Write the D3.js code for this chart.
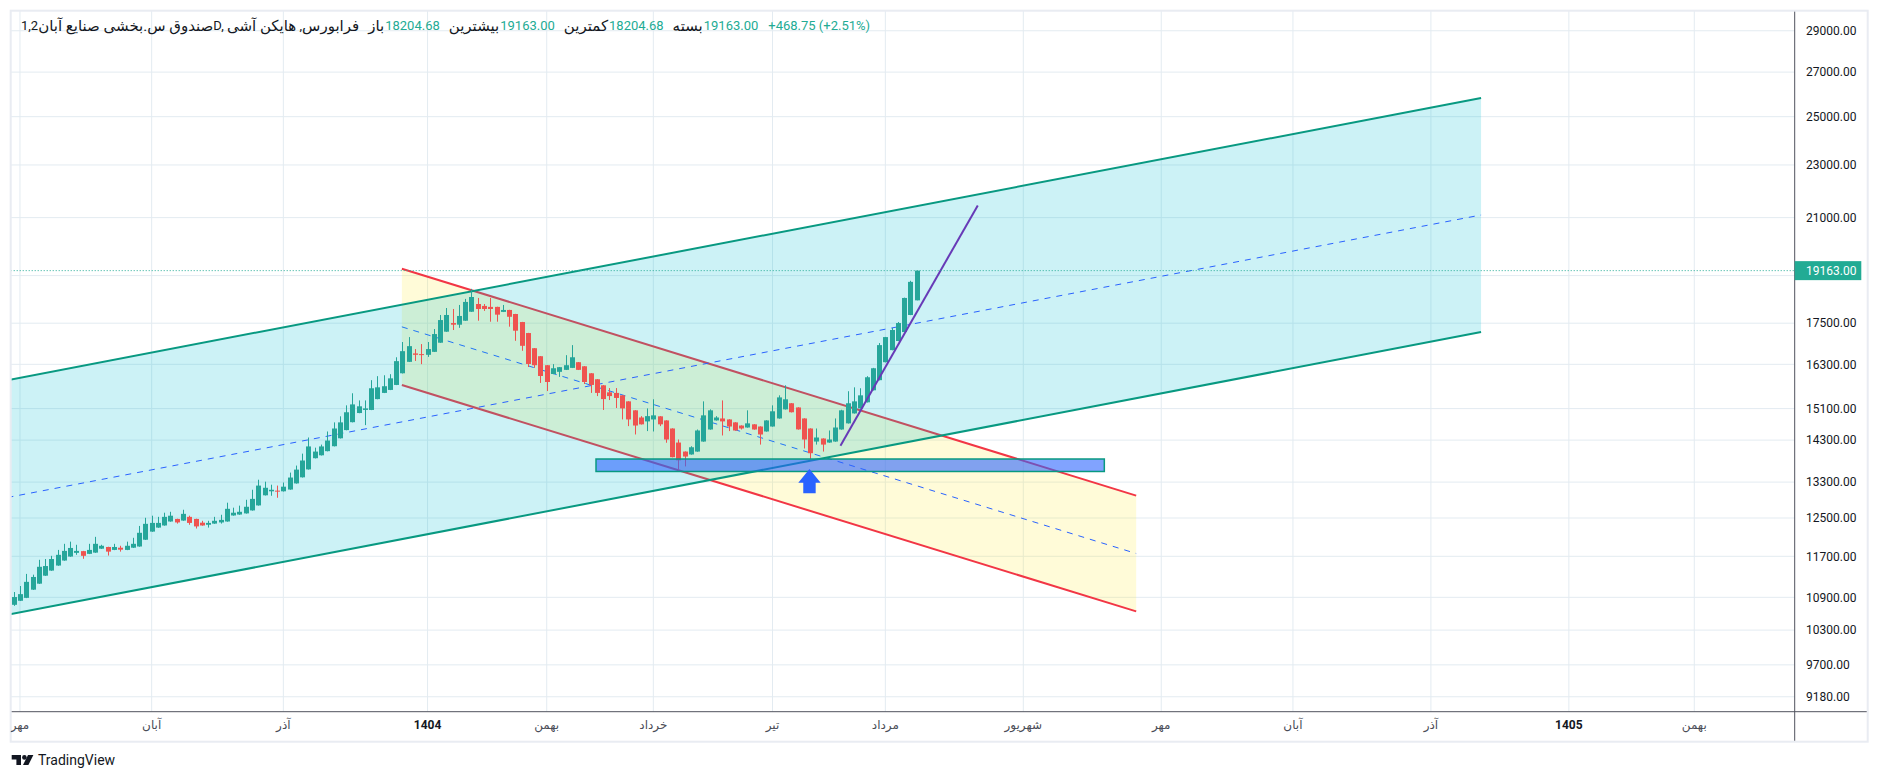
<!DOCTYPE html>
<html>
<head>
<meta charset="utf-8">
<script src="https://cdn.jsdelivr.net/npm/d3@7"></script>
<style>
    body { margin: 0; background: #fff; font-family: Roboto, "DejaVu Sans", sans-serif; }
    #chart { position: relative; width: 1879px; height: 781px; overflow: hidden; }
    #chart svg { position: absolute; left: 0; top: 0; }
    #legend { position: absolute; left: 21px; top: 17px; height: 18px; line-height: 18px; font-size: 13px;
              color: #131722; white-space: pre; display: flex; align-items: center; direction: ltr; }
    #legend span { unicode-bidi: isolate; }
    #legend span[dir="rtl"] { font-size: 15px; }
    #legend .val { color: #22ab94; }
</style>
</head>
<body>
<div id="chart">
    <svg id="svg" width="1879" height="781"></svg>
    <div id="legend"></div>
</div>
<script>
// Heikin Ashi daily candles
const opens = [10760, 10835, 10890, 11045, 11160, 11315, 11415, 11515, 11615, 11695,
    11770, 11805, 11750, 11775, 11855, 11890, 11830, 11875, 11830, 11875,
    11900, 12040, 12210, 12295, 12340, 12425, 12480, 12445, 12525, 12480,
    12400, 12355, 12380, 12405, 12425, 12555, 12575, 12600, 12665, 12775,
    13000, 13090, 13105, 13090, 13130, 13270, 13410, 13595, 13860, 13930,
    14030, 14150, 14345, 14550, 14750, 14985, 15065, 15065, 15350, 15515,
    15595, 15730, 16050, 16370, 16610, 16590, 16570, 16655, 16920, 17245,
    17505, 17455, 17575, 17850, 18090, 18030, 18000, 18000, 17845, 17905,
    17780, 17535, 17205, 16760, 16530, 16275, 16030, 16090, 16145, 16200,
    16360, 16245, 16050, 15885, 15720, 15530, 15515, 15450, 15290, 15055,
    14870, 14770, 14820, 14900, 14795, 14590, 14240, 14020, 13950, 14020,
    14265, 14565, 14795, 14845, 14820, 14745, 14665, 14615, 14695, 14640,
    14515, 14640, 14845, 15080, 15240, 15130, 14845, 14590, 14265, 14340,
    14240, 14265, 14565, 14720, 14975, 15105, 15265, 15585, 15860, 16360,
    16705, 16970, 17235, 17750, 18204.68];
const highs = [11000, 11115, 11350, 11335, 11630, 11645, 11710, 11830, 11955, 12000,
    11935, 11810, 11955, 12100, 11935, 11895, 11955, 11915, 12000, 12080,
    12330, 12505, 12550, 12525, 12615, 12635, 12485, 12680, 12550, 12485,
    12440, 12440, 12525, 12570, 12835, 12725, 12770, 12900, 13125, 13355,
    13310, 13240, 13220, 13290, 13520, 13685, 13970, 14365, 14115, 14190,
    14515, 14745, 14900, 15185, 15505, 15315, 15315, 15860, 15970, 15995,
    16025, 16500, 16940, 17085, 16735, 16880, 16940, 17325, 17750, 17965,
    17935, 18060, 18250, 18570, 18280, 18090, 18280, 18005, 18060, 17910,
    17785, 17540, 17210, 16765, 16535, 16280, 16305, 16225, 16560, 16850,
    16365, 16250, 16055, 15890, 15725, 15645, 15645, 15455, 15295, 15060,
    14905, 15105, 15345, 14905, 14800, 14595, 14315, 14025, 14150, 14565,
    15290, 15080, 14905, 15315, 14825, 14750, 14670, 15055, 14700, 14645,
    14800, 15185, 15450, 15720, 15245, 15135, 14850, 14595, 14590, 14345,
    14540, 14845, 15070, 15560, 15665, 15640, 15970, 16200, 16910, 17090,
    17355, 17535, 18290, 18830, 19163];
const lows = [10740, 10830, 10885, 11040, 11155, 11310, 11410, 11510, 11610, 11690,
    11730, 11650, 11745, 11770, 11850, 11715, 11825, 11795, 11825, 11870,
    11895, 12035, 12205, 12290, 12335, 12420, 12380, 12440, 12355, 12275,
    12335, 12295, 12375, 12380, 12420, 12550, 12570, 12595, 12660, 12770,
    12995, 12990, 12945, 13085, 13125, 13265, 13405, 13590, 13855, 13925,
    14025, 14145, 14340, 14545, 14745, 14980, 14675, 15060, 15345, 15510,
    15590, 15725, 16045, 16365, 16395, 16305, 16510, 16650, 16915, 17240,
    17295, 17360, 17570, 17845, 17575, 17875, 17545, 17545, 17840, 17395,
    16975, 16685, 16225, 16200, 15785, 15565, 16025, 15950, 16140, 16195,
    16140, 15755, 15515, 15430, 15065, 15325, 15115, 14820, 14650, 14440,
    14690, 14525, 14515, 14650, 14235, 13880, 13575, 13665, 13945, 14015,
    14260, 14560, 14790, 14415, 14525, 14535, 14565, 14610, 14560, 14190,
    14510, 14635, 14840, 15075, 15000, 14560, 14095, 13835, 14190, 14020,
    14235, 14260, 14560, 14715, 14970, 15100, 15260, 15580, 15855, 16355,
    16700, 16965, 17230, 17745, 18204.68];
const closes = [10905, 10960, 11195, 11290, 11490, 11505, 11645, 11730, 11810, 11870,
    11810, 11710, 11830, 11955, 11915, 11795, 11890, 11835, 11915, 11955,
    12185, 12375, 12395, 12395, 12525, 12550, 12405, 12590, 12395, 12320,
    12340, 12395, 12440, 12460, 12700, 12615, 12635, 12745, 12920, 13220,
    13170, 13125, 13090, 13195, 13405, 13590, 13805, 14145, 14020, 14145,
    14290, 14590, 14745, 15005, 15210, 15160, 15105, 15640, 15665, 15695,
    15910, 16390, 16675, 16820, 16570, 16570, 16735, 17175, 17595, 17750,
    17455, 17720, 18155, 18310, 17935, 17935, 17935, 17760, 17905, 17695,
    17275, 16830, 16310, 16275, 15975, 15810, 16190, 16220, 16275, 16500,
    16145, 15810, 15730, 15515, 15350, 15430, 15380, 15105, 14820, 14665,
    14695, 14905, 14925, 14695, 14315, 13885, 13810, 13900, 14125, 14540,
    14925, 15055, 14870, 14770, 14640, 14540, 14590, 14720, 14565, 14440,
    14795, 15030, 15395, 15345, 15005, 14567, 14315, 13980, 14365, 14190,
    14315, 14615, 15055, 15240, 15290, 15450, 15940, 16190, 16850, 17085,
    17295, 17505, 18280, 18795, 19163];

// time axis: bar index of each month label
const monthTicks = [1, 22, 43, 66, 85, 102, 121, 139, 161, 183, 204, 226, 248, 268];
const monthLabels = ["مهر", "آبان", "آذر", "1404", "بهمن", "خرداد", "تیر", "مرداد",
    "شهریور", "مهر", "آبان", "آذر", "1405", "بهمن"];
const priceTicks = [29000, 27000, 25000, 23000, 21000, 19000, 17500, 16300, 15100,
    14300, 13300, 12500, 11700, 10900, 10300, 9700, 9180];

const change = 468.75;
const changePct = 2.51;

// drawings: [bar index, price]
const riseUpper = [[-1, 15860], [234, 25820]];
const riseLower = [[-1, 10575], [234, 17236]];
const fallUpper = [[61.9, 19227], [179, 12993]];
const fallLower = [[61.9, 15728], [179, 10638]];
const supportZone = [[92.86, 13841], [173.92, 13546]];
const arrowPoint = [126.9, 13604];
const trendLine = [[131.84, 14163], [153.74, 21448]];

const plot = { left: 10.7, top: 10.7, right: 1794.7, bottom: 711.7 };
const frame = { right: 1867.7, bottom: 741.7 };
const green = "#26a69a", red = "#ef5350", teal = "#22ab94";

const x = d3.scaleLinear().domain([0, 144]).range([13.7, 916.7]);
const y = d3.scaleLog().domain([9180, 29000]).range([696.75, 30.75]);

const svg = d3.select("#svg");
const defs = svg.append("defs");
defs.append("clipPath").attr("id", "plotClip")
    .append("rect")
    .attr("x", plot.left).attr("y", plot.top)
    .attr("width", plot.right - plot.left).attr("height", plot.bottom - plot.top);
defs.append("clipPath").attr("id", "timeClip")
    .append("rect")
    .attr("x", plot.left).attr("y", plot.bottom)
    .attr("width", plot.right - plot.left).attr("height", frame.bottom - plot.bottom);

// grid
const grid = svg.append("g").attr("clip-path", "url(#plotClip)");
grid.selectAll(".hgrid")
    .data(priceTicks)
    .enter()
    .append("line")
    .attr("x1", plot.left).attr("x2", plot.right)
    .attr("y1", d => y(d)).attr("y2", d => y(d))
    .attr("stroke", "#e3ebf1").attr("stroke-width", 1);
grid.selectAll(".vgrid")
    .data(monthTicks)
    .enter()
    .append("line")
    .attr("x1", d => x(d)).attr("x2", d => x(d))
    .attr("y1", plot.top).attr("y2", plot.bottom)
    .attr("stroke", "#e3ebf1").attr("stroke-width", 1);

const layer = svg.append("g").attr("clip-path", "url(#plotClip)");

function drawChannel(upper, lower, fill, stroke) {
    const pts = [
        [x(upper[0][0]), y(upper[0][1])],
        [x(upper[1][0]), y(upper[1][1])],
        [x(lower[1][0]), y(lower[1][1])],
        [x(lower[0][0]), y(lower[0][1])]
    ];
    layer.append("polygon")
        .attr("points", pts.map(p => p.join(",")).join(" "))
        .attr("fill", fill);
    // midline halfway between the two borders
    layer.append("line")
        .attr("x1", pts[0][0]).attr("y1", (pts[0][1] + pts[3][1]) / 2)
        .attr("x2", pts[1][0]).attr("y2", (pts[1][1] + pts[2][1]) / 2)
        .attr("stroke", "#2962ff").attr("stroke-width", 1)
        .attr("stroke-dasharray", "6,6");
    [upper, lower].forEach(l => {
        layer.append("line")
            .attr("x1", x(l[0][0])).attr("y1", y(l[0][1]))
            .attr("x2", x(l[1][0])).attr("y2", y(l[1][1]))
            .attr("stroke", stroke).attr("stroke-width", 2);
    });
}

drawChannel(fallUpper, fallLower, "rgba(255,235,59,0.2)", "#f23645");
drawChannel(riseUpper, riseLower, "rgba(0,188,212,0.2)", "#089981");

// candles
const candles = d3.range(opens.length).map(i => ({
    i: i, o: opens[i], h: highs[i], l: lows[i], c: closes[i]
}));

const bars = layer.append("g").selectAll("g")
    .data(candles)
    .enter()
    .append("g");

bars.append("line")
    .attr("x1", d => Math.round(x(d.i)) + 0.5)
    .attr("x2", d => Math.round(x(d.i)) + 0.5)
    .attr("y1", d => y(d.h))
    .attr("y2", d => y(d.l))
    .attr("stroke", d => d.c >= d.o ? green : red)
    .attr("stroke-width", 1);

bars.append("rect")
    .attr("x", d => Math.round(x(d.i)) - 2)
    .attr("width", 5)
    .attr("y", d => y(Math.max(d.o, d.c)))
    .attr("height", d => Math.max(1, Math.abs(y(d.o) - y(d.c))))
    .attr("fill", d => d.c >= d.o ? green : red);

// support zone
layer.append("rect")
    .attr("x", x(supportZone[0][0]))
    .attr("y", y(supportZone[0][1]))
    .attr("width", x(supportZone[1][0]) - x(supportZone[0][0]))
    .attr("height", y(supportZone[1][1]) - y(supportZone[0][1]))
    .attr("fill", "rgba(41,98,255,0.59)")
    .attr("stroke", "#089981")
    .attr("stroke-width", 1.5);

// up arrow under the low
const ax = x(arrowPoint[0]), ay = y(arrowPoint[1]);
layer.append("polygon")
    .attr("points", [[0, 0], [11.2, 13.7], [6.2, 13.7], [6.2, 24.3], [-6.2, 24.3], [-6.2, 13.7], [-11.2, 13.7]]
        .map(p => (ax + p[0]) + "," + (ay + p[1])).join(" "))
    .attr("fill", "#2962ff");

// trend line
layer.append("line")
    .attr("x1", x(trendLine[0][0])).attr("y1", y(trendLine[0][1]))
    .attr("x2", x(trendLine[1][0])).attr("y2", y(trendLine[1][1]))
    .attr("stroke", "#673ab7").attr("stroke-width", 2);

// last price line
const last = closes[closes.length - 1];
layer.append("line")
    .attr("x1", plot.left).attr("x2", plot.right)
    .attr("y1", y(last)).attr("y2", y(last))
    .attr("stroke", teal).attr("stroke-width", 1)
    .attr("stroke-dasharray", "1,2");

// axes lines and frame
svg.append("line")
    .attr("x1", plot.left).attr("x2", frame.right)
    .attr("y1", plot.bottom).attr("y2", plot.bottom)
    .attr("stroke", "#50535e").attr("stroke-width", 1);
svg.append("line")
    .attr("x1", plot.right).attr("x2", plot.right)
    .attr("y1", plot.top).attr("y2", frame.bottom)
    .attr("stroke", "#50535e").attr("stroke-width", 1);
svg.append("rect")
    .attr("x", plot.left).attr("y", plot.top)
    .attr("width", frame.right - plot.left).attr("height", frame.bottom - plot.top)
    .attr("fill", "none").attr("stroke", "#e9ecf2").attr("stroke-width", 2);

// price axis labels
svg.append("g").selectAll("text")
    .data(priceTicks.filter(p => Math.abs(y(p) - y(last)) > 14))
    .enter()
    .append("text")
    .attr("x", 1806)
    .attr("y", d => y(d))
    .attr("dy", "0.35em")
    .attr("font-size", 12)
    .attr("fill", "#131722")
    .text(d => d3.format(".2f")(d));

svg.append("rect")
    .attr("x", plot.right).attr("y", y(last) - 9.5)
    .attr("width", 66.6).attr("height", 19)
    .attr("fill", teal);
svg.append("text")
    .attr("x", 1806).attr("y", y(last)).attr("dy", "0.35em")
    .attr("font-size", 12).attr("fill", "#fff")
    .text(d3.format(".2f")(last));

// time axis labels
svg.append("g").attr("clip-path", "url(#timeClip)")
    .selectAll("text")
    .data(monthTicks)
    .enter()
    .append("text")
    .attr("x", d => x(d))
    .attr("y", 725)
    .attr("dy", "0.35em")
    .attr("text-anchor", "middle")
    .attr("font-size", 12)
    .attr("font-weight", (d, i) => /^\d+$/.test(monthLabels[i]) ? "bold" : "normal")
    .attr("fill", (d, i) => /^\d+$/.test(monthLabels[i]) ? "#131722" : "#4a4d57")
    .text((d, i) => monthLabels[i]);

// TradingView logo
const logo = svg.append("g").attr("fill", "#131722");
logo.append("path").attr("d", "M11.7 755 h9.3 v10 h-4.6 v-5.6 h-4.7 z");
logo.append("circle").attr("cx", 24.4).attr("cy", 757.4).attr("r", 2.3);
logo.append("path").attr("d", "M28 755 h5.4 l-5 10 h-5.4 z");
logo.append("text")
    .attr("x", 38).attr("y", 765)
    .attr("font-size", 14)
    .text("TradingView");

// legend (visual order, left to right)
const legend = d3.select("#legend");
const titleParts = [
    { t: "1,2", dir: "ltr" },
    { t: "صندوق س.بخشی صنایع آبان", dir: "rtl" },
    { t: "D, ", dir: "ltr" },
    { t: "هایکن آشی", dir: "rtl" },
    { t: " ,", dir: "ltr" },
    { t: "فرابورس", dir: "rtl" }
];
titleParts.forEach(p => {
    legend.append("span").attr("dir", p.dir).text(p.t);
});

const n = closes.length - 1;
const ohlc = [["باز", opens[n]], ["بیشترین", highs[n]], ["کمترین", lows[n]], ["بسته", closes[n]]];
ohlc.forEach((d, i) => {
    legend.append("span").attr("dir", "rtl")
        .style("margin-left", i === 0 ? "9px" : "9px")
        .text(d[0]);
    legend.append("span").attr("class", "val")
        .style("margin-left", "1px")
        .text(d3.format(".2f")(d[1]));
});
legend.append("span").attr("class", "val")
    .style("margin-left", "10px")
    .text("+" + d3.format(".2f")(change) + " (+" + d3.format(".2f")(changePct) + "%)");
</script>
</body>
</html>
